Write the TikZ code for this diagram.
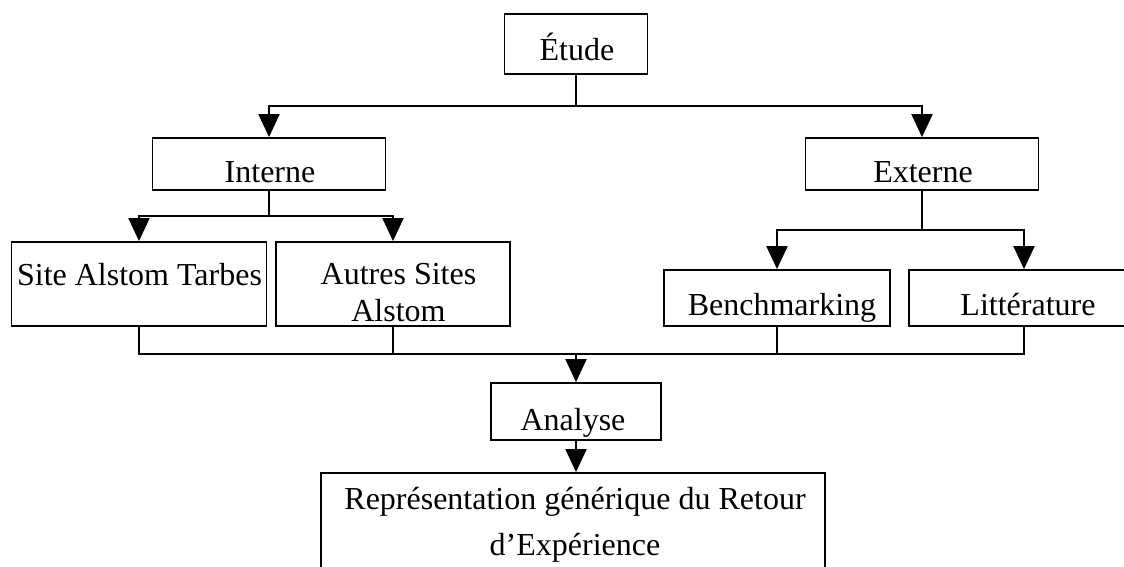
\documentclass[tikz,border=0pt]{standalone}
\usepackage{fontspec}
\setmainfont{Liberation Serif}
\usetikzlibrary{arrows.meta}
\tikzset{
  box/.style={draw=black, line width=1.8pt, rectangle, inner sep=0pt},
  txt/.style={inner sep=0pt, font=\fontsize{32}{37}\selectfont, anchor=base},
  mtxt/.style={inner sep=0pt, align=center, anchor=north},
  conn/.style={draw=black, line width=2pt},
  arr/.style={draw=black, line width=2pt, -{Triangle[length=23pt,width=21pt]}}
}
\begin{document}
\begin{tikzpicture}[x=1pt,y=-1pt]
\useasboundingbox (0,0) rectangle (1124,567);
\clip (0,0) rectangle (1124,567);
% boxes
\node[box, minimum width=143pt, minimum height=60pt] (etude) at (576,44) {};
\node[box, minimum width=233pt, minimum height=52pt] (interne) at (269,164) {};
\node[box, minimum width=233pt, minimum height=52pt] (externe) at (922,164) {};
\node[box, minimum width=255pt, minimum height=84pt] (site) at (139,284) {};
\node[box, minimum width=234pt, minimum height=84pt] (autres) at (393,284) {};
\node[box, minimum width=226pt, minimum height=56pt] (bench) at (777,298) {};
\node[box, minimum width=230pt, minimum height=56pt] (litt) at (1024,298) {};
\node[box, minimum width=170pt, minimum height=57pt] (analyse) at (576,411.5) {};
\node[box, minimum width=504pt, minimum height=160pt] (rex) at (573,553) {};
% texts
\node[txt] (tetude) at (577,61) {Étude};
\node[txt] (tinterne) at (270,182) {Interne};
\node[txt] (texterne) at (923,182) {Externe};
\node[txt] (tsite) at (139.5,285) {Site Alstom Tarbes};
\node[mtxt, font=\fontsize{32}{37}\selectfont] (tautres) at (398.5,263) {Autres Sites\\Alstom};
\node[txt] (tbench) at (782,315) {Benchmarking};
\node[txt] (tlitt) at (1028,315) {Littérature};
\node[txt] (tanalyse) at (573,430) {Analyse};
\node[mtxt, font=\fontsize{32}{46}\selectfont] (trex) at (575,487) {Représentation générique du Retour\\d’Expérience};
% connectors
\coordinate (t) at (576,106);
\draw[conn] (etude.south) -- (t);
\draw[arr] (t) -| (interne.north);
\draw[arr] (t) -| (externe.north);
\coordinate (i) at (269,216);
\draw[conn] (interne.south) -- (i);
\draw[arr] (i) -| (site.north);
\draw[arr] (i) -| (autres.north);
\coordinate (e) at (922,230);
\draw[conn] (externe.south) -- (e);
\draw[arr] (e) -| (bench.north);
\draw[arr] (e) -| (litt.north);
\coordinate (m) at (576,354);
\draw[conn] (site.south) |- (m);
\draw[conn] (autres.south) |- (m);
\draw[conn] (bench.south) |- (m);
\draw[conn] (litt.south) |- (m);
\draw[arr] (m) -- (m |- analyse.north);
\draw[arr] (analyse.south) -- (analyse.south |- rex.north);
\end{tikzpicture}
\end{document}
